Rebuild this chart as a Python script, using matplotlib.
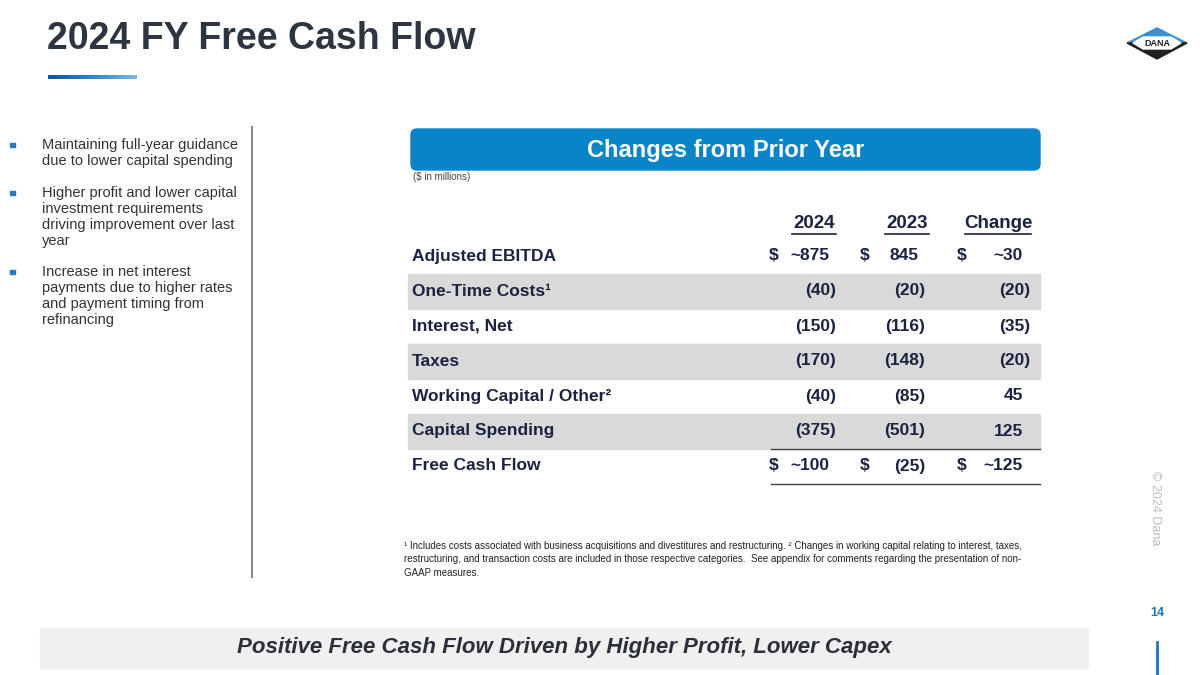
import numpy as np
from matplotlib import pyplot as plt
from matplotlib import rc
from matplotlib.patches import Rectangle, FancyBboxPatch, Polygon
from matplotlib.colors import LinearSegmentedColormap

rc('font', **{'family': 'sans-serif', 'sans-serif': ['Liberation Sans', 'DejaVu Sans']})

navy = '#1b2340'
blue = '#0a84c8'

title = '2024 FY Free Cash Flow'
bullets = [
    ['Maintaining full-year guidance', 'due to lower capital spending'],
    ['Higher profit and lower capital', 'investment requirements',
     'driving improvement over last', 'year'],
    ['Increase in net interest', 'payments due to higher rates',
     'and payment timing from', 'refinancing'],
]
columns = ['2024', '2023', 'Change']
row_labels = ['Adjusted EBITDA', 'One-Time Costs\u00b9', 'Interest, Net', 'Taxes',
              'Working Capital / Other\u00b2', 'Capital Spending', 'Free Cash Flow']
vals_2024 = ['~875', '(40)', '(150)', '(170)', '(40)', '(375)', '~100']
vals_2023 = ['845', '(20)', '(116)', '(148)', '(85)', '(501)', '(25)']
vals_change = ['~30', '(20)', '(35)', '(20)', '45', '125', '~125']
dollar_rows = [0, 6]
footnote = ['\u00b9 Includes costs associated with business acquisitions and divestitures and restructuring. '
            '\u00b2 Changes in working capital relating to interest, taxes,',
            'restructuring, and transaction costs are included in those respective categories.  '
            'See appendix for comments regarding the presentation of non-',
            'GAAP measures.']
banner = 'Positive Free Cash Flow Driven by Higher Profit, Lower Capex'

fig = plt.figure(figsize=(12, 6.75), dpi=100)
ax = fig.add_axes([0, 0, 1, 1])
ax.set_xlim(0, 1200)
ax.set_ylim(675, 0)
ax.axis('off')

# title + gradient bar
ax.text(47, 39, title, fontsize=27, fontweight='bold', color='#2d3540', va='center')
grad = np.linspace(0, 1, 100).reshape(1, -1)
cm = LinearSegmentedColormap.from_list('g', ['#0b56a6', '#2f86d0', '#7ab8e6'])
ax.imshow(grad, cmap=cm, extent=(48, 137, 79, 75), aspect='auto', zorder=2)

# logo
cx, cy = 1157, 43
ax.add_patch(Polygon([(cx - 30, cy), (cx, cy - 15), (cx + 30, cy)], closed=True, color='#3b8fd2', zorder=3))
ax.add_patch(Polygon([(cx - 30, cy), (cx, cy + 16), (cx + 30, cy)], closed=True, color='#1e1e1e', zorder=3))
ax.add_patch(Polygon([(cx - 24, cy), (cx - 14, cy - 6), (cx + 14, cy - 6), (cx + 24, cy),
                      (cx + 14, cy + 6), (cx - 14, cy + 6)], closed=True, color='white', zorder=4))
ax.text(cx, cy + 0.5, 'DANA', fontsize=6.5, fontweight='bold', color='#1e1e1e', ha='center', va='center', zorder=5)

# bullets
starts = [145, 193, 272]
for lines, y0 in zip(bullets, starts):
    ax.add_patch(Rectangle((10, y0 - 2.5), 4.5, 4.5, color='#2a7ab8'))
    for i, ln in enumerate(lines):
        ax.text(42, y0 + i * 16, ln, fontsize=10.5, color='#333333', va='center')
ax.plot([252, 252], [127, 577], color='#8a8a8a', lw=1.5)

# header box
ax.add_patch(FancyBboxPatch((413, 131), 625, 37, boxstyle='round,pad=2,rounding_size=6',
                            color=blue, zorder=2))
ax.text(726, 151, 'Changes from Prior Year', fontsize=17, fontweight='bold', color='white',
        ha='center', va='center', zorder=3)
ax.text(413, 177, '($ in millions)', fontsize=7, color='#444444', va='center')

# column headers
col_right = [836, 925, 1030]
col_dollar = [774, 865, 962]
col_center = [814, 907, 998]
for c, xc in zip(columns, col_center):
    ax.text(xc, 224, c, fontsize=13.5, fontweight='bold', color=navy, ha='center', va='center')
hw = [22, 22, 33]
for xc, w in zip(col_center, hw):
    ax.plot([xc - w, xc + w], [234, 234], color=navy, lw=1.2)

# rows
row_y = [256, 291, 326, 361, 396, 431, 466]
for i, y in enumerate(row_y):
    if i % 2 == 1:
        ax.add_patch(Rectangle((408, y - 17.5), 632, 35, color='#d9d9d9', zorder=0))
    ax.text(412, y, row_labels[i], fontsize=12.5, fontweight='bold', color=navy, va='center')
    for j, vals in enumerate([vals_2024, vals_2023, vals_change]):
        v = vals[i]
        xr = col_right[j] if v.endswith(')') else col_right[j] - 7
        ax.text(xr, y, v, fontsize=12.5, fontweight='bold', color=navy, ha='right', va='center')
        if i in dollar_rows:
            ax.text(col_dollar[j], y, '$', fontsize=12.5, fontweight='bold', color=navy,
                    ha='center', va='center')

ax.plot([771, 1040], [449, 449], color='#444444', lw=1)
ax.plot([771, 1040], [484, 484], color='#444444', lw=1)

# footnote
for i, ln in enumerate(footnote):
    ax.text(404, 546 + i * 13.5, ln, fontsize=7, color='#222222', va='center')

# banner
ax.add_patch(Rectangle((40, 628), 1048, 40, color='#f0f0f0', zorder=0))
ax.text(564, 648, banner, fontsize=16, fontweight='bold', fontstyle='italic', color='#2b2f3a',
        ha='center', va='center')

# right side
ax.text(1155, 508, '\u00a9 2024 Dana', fontsize=9, color='#bbbbbb', rotation=270,
        ha='center', va='center')
ax.text(1157, 613, '14', fontsize=9, fontweight='bold', color='#1a75bb', ha='center', va='center')
ax.plot([1157, 1157], [642, 675], color='#1a75bb', lw=2)

fig.savefig('out.png', dpi=100)
